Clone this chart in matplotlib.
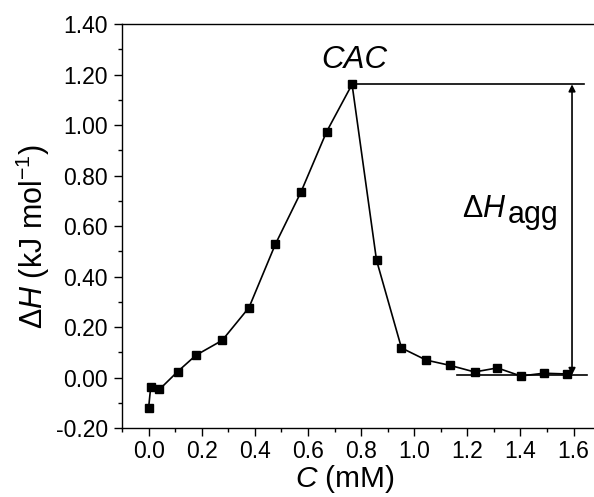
import matplotlib
matplotlib.use("Agg")
import matplotlib.pyplot as plt
from matplotlib.ticker import MultipleLocator, FormatStrFormatter

plt.rcParams['font.family'] = ['Liberation Sans', 'DejaVu Sans']
plt.rcParams['mathtext.fontset'] = 'custom'
plt.rcParams['mathtext.rm'] = 'Liberation Sans'
plt.rcParams['mathtext.it'] = 'Liberation Sans:italic'

# concentration (mM) and enthalpy (kJ/mol)
conc = [0.0, 0.008, 0.041, 0.109, 0.178, 0.277, 0.378, 0.477, 0.573, 0.670,
        0.766, 0.858, 0.952, 1.045, 1.135, 1.227, 1.313, 1.401, 1.488, 1.575]
dH = [-0.122, -0.038, -0.047, 0.023, 0.088, 0.147, 0.277, 0.527, 0.733, 0.973,
      1.161, 0.465, 0.117, 0.069, 0.048, 0.022, 0.038, 0.006, 0.017, 0.014]

cac = 0.766
h_top = 1.161
h_base = 0.01
arrow_x = 1.594

fig = plt.figure(figsize=(5.94, 4.97), dpi=100)
ax = fig.add_axes([0.2054, 0.1388, 0.805, 0.8129])

ax.plot(conc, dH, color='black', lw=1.2, marker='s', ms=5.3,
        markerfacecolor='black', markeredgecolor='black')

# guide lines and arrow for the aggregation enthalpy
ax.plot([cac, 1.64], [h_top, h_top], color='black', lw=1.2)
ax.plot([1.16, 1.65], [h_base, h_base], color='black', lw=1.2)
ax.annotate('', xy=(arrow_x, h_base), xytext=(arrow_x, h_top),
            arrowprops=dict(arrowstyle='<|-|>', color='black', lw=1.2,
                            mutation_scale=10, shrinkA=0, shrinkB=0))

ax.text(0.774, 1.225, 'CAC', fontsize=22.5, style='italic', ha='center',
        va='baseline')
ax.text(1.348, 0.637, r'Δ$H$', fontsize=22, ha='right', va='baseline')
ax.text(1.352, 0.611, 'agg', fontsize=22, ha='left', va='baseline')

ax.set_xlim(-0.1, 1.7)
ax.set_ylim(-0.2, 1.4)
ax.xaxis.set_major_locator(MultipleLocator(0.2))
ax.xaxis.set_minor_locator(MultipleLocator(0.1))
ax.yaxis.set_major_locator(MultipleLocator(0.2))
ax.yaxis.set_minor_locator(MultipleLocator(0.1))
ax.xaxis.set_major_formatter(FormatStrFormatter('%.1f'))
ax.yaxis.set_major_formatter(FormatStrFormatter('%.2f'))

ax.spines['right'].set_visible(False)
for s in ['left', 'bottom', 'top']:
    ax.spines[s].set_linewidth(1.0)
ax.tick_params(which='both', direction='out', width=1.0, labelsize=16.5,
               top=False, right=False)
ax.tick_params(which='major', length=5.8)
ax.tick_params(which='minor', length=3.2)
ax.tick_params(axis='x', pad=2.5)
ax.tick_params(axis='y', pad=4.5)

ax.set_xlabel(r'$C$ (mM)', fontsize=21.5)
ax.set_ylabel(r'Δ$H$ (kJ mol$^{-1}$)', fontsize=22)
ax.xaxis.set_label_coords(0.466, -0.086)
ax.yaxis.set_label_coords(-0.146, 0.475)

fig.savefig('out.png', dpi=100)
